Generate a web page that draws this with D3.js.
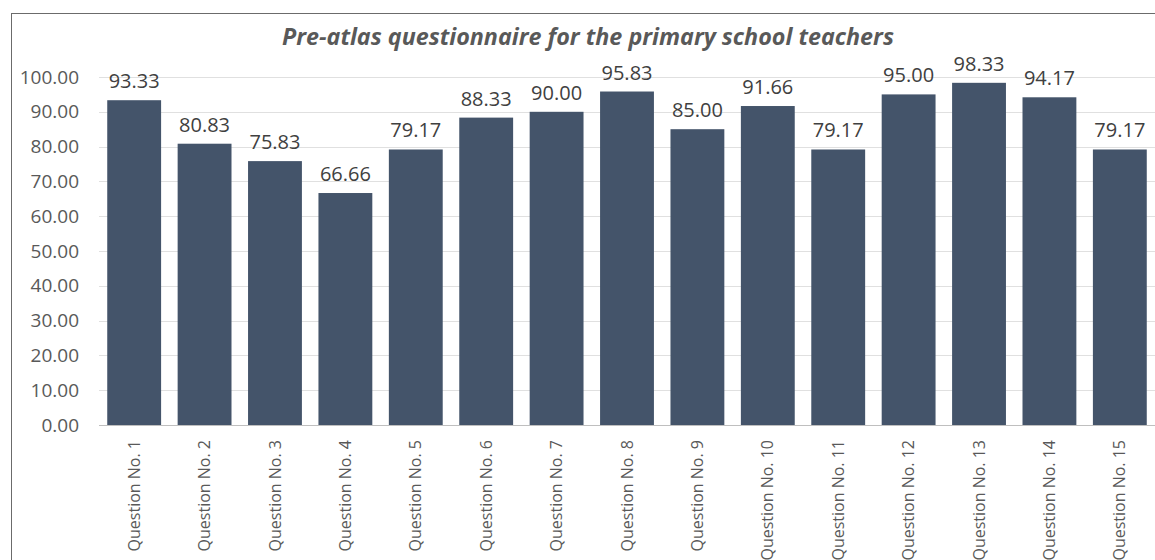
<!DOCTYPE html>
<html>
<head>
<meta charset="utf-8">
<script src="https://cdn.jsdelivr.net/npm/d3@7"></script>
<style>
  body { margin: 0; background: #fff; }
  svg { display: block; font-family: "Open Sans", sans-serif; }
</style>
</head>
<body>
<div id="container"></div>
<script>
const WIDTH = 1155;
const HEIGHT = 560;
const MARGIN = { TOP: 77, BOTTOM: 135, LEFT: 99, RIGHT: 0 };

const TITLE = 'Pre-atlas questionnaire for the primary school teachers';
const questions = d3.range(1, 16).map(i => `Question No. ${i}`);
const scores = [93.33, 80.83, 75.83, 66.66, 79.17, 88.33, 90.00, 95.83, 85.00, 91.66, 79.17, 95.00, 98.33, 94.17, 79.17];
const yTicks = [0, 10, 20, 30, 40, 50, 60, 70, 80, 90, 100];

const width = WIDTH - MARGIN.LEFT - MARGIN.RIGHT;
const height = HEIGHT - MARGIN.TOP - MARGIN.BOTTOM;

const svg = d3.select('#container')
    .append('svg')
    .attr('width', WIDTH)
    .attr('height', HEIGHT);

// chart frame
svg.append('rect')
    .attr('x', 11.5)
    .attr('y', 13.5)
    .attr('width', WIDTH)
    .attr('height', HEIGHT)
    .attr('fill', 'none')
    .attr('stroke', '#6b6b6b')
    .attr('stroke-width', 1);

svg.append('text')
    .attr('x', 588)
    .attr('y', 45)
    .attr('text-anchor', 'middle')
    .attr('font-size', 23.3)
    .attr('font-weight', 'bold')
    .attr('font-style', 'italic')
    .attr('fill', '#595959')
    .text(TITLE);

const container = svg.append('g')
    .attr('transform', `translate(${MARGIN.LEFT}, ${MARGIN.TOP})`);

const xScale = d3.scaleBand()
    .domain(questions)
    .range([0, width])
    .paddingInner(0.235)
    .paddingOuter(0.117);

const yScale = d3.scaleLinear()
    .domain([0, 100])
    .range([height, 0]);

// gridlines
container.append('g')
    .selectAll('line')
    .data(yTicks.slice(1))
    .enter()
    .append('line')
      .attr('x1', 0)
      .attr('x2', width)
      .attr('y1', d => Math.round(yScale(d)) + 0.5)
      .attr('y2', d => Math.round(yScale(d)) + 0.5)
      .attr('stroke', '#e0e0e0')
      .attr('stroke-width', 1);

const axisLeft = d3.axisLeft(yScale)
    .tickValues(yTicks)
    .tickSize(0)
    .tickPadding(20)
    .tickFormat(d3.format('.2f'));

container.append('g')
    .attr('class', 'y axis')
    .call(axisLeft)
    .call(g => g.select('.domain').remove())
    .selectAll('text')
    .attr('font-size', 19)
    .attr('font-family', '"Open Sans", sans-serif')
    .attr('fill', '#595959');

container.selectAll('rect.bar')
    .data(scores)
    .enter()
    .append('rect')
      .attr('class', 'bar')
      .attr('x', (d, i) => xScale(questions[i]))
      .attr('y', d => yScale(d))
      .attr('width', xScale.bandwidth())
      .attr('height', d => height - yScale(d))
      .attr('fill', '#44546a');

container.selectAll('text.value')
    .data(scores)
    .enter()
    .append('text')
      .attr('class', 'value')
      .attr('x', (d, i) => xScale(questions[i]) + xScale.bandwidth() / 2)
      .attr('y', d => yScale(d) - 12)
      .attr('text-anchor', 'middle')
      .attr('font-size', 20)
      .attr('fill', '#404040')
      .text(d => d.toFixed(2));

const axisBottom = d3.axisBottom(xScale)
    .tickSize(0)
    .tickPadding(0);

container.append('g')
    .attr('class', 'x axis')
    .attr('transform', `translate(0, ${height})`)
    .call(axisBottom)
    .call(g => g.select('.domain')
        .attr('stroke', '#bfbfbf')
        .attr('d', `M0,0.5H${width}`))
    .selectAll('text')
    .attr('font-size', 16)
    .attr('font-family', '"Open Sans", sans-serif')
    .attr('fill', '#595959')
    .style('text-anchor', 'end')
    .attr('dx', '-15')
    .attr('dy', '0.35em')
    .attr('transform', 'rotate(-90)');
</script>
</body>
</html>
